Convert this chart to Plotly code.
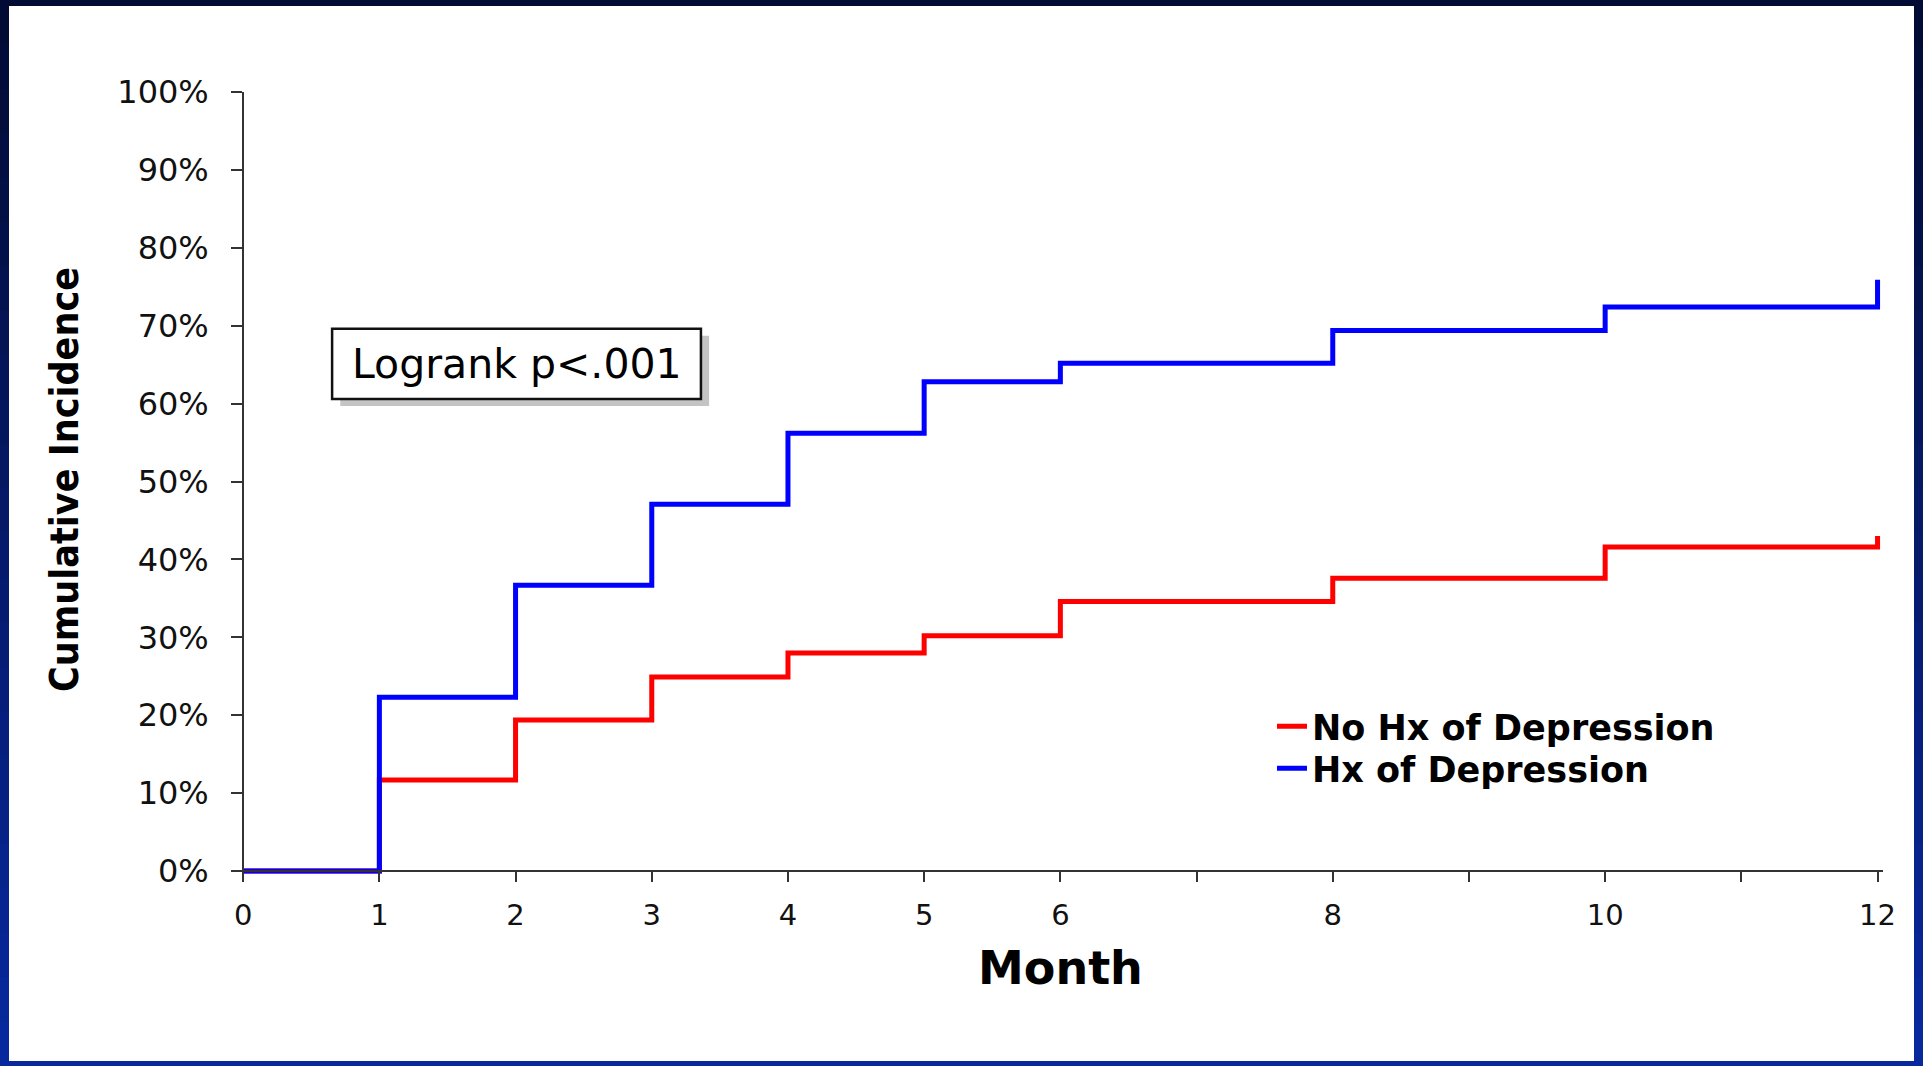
import plotly.graph_objects as go

# Cumulative incidence by month (step functions, percent)
months = [0, 1, 2, 3, 4, 5, 6, 8, 10, 12]
no_hx_depression = [0, 11.7, 19.4, 24.9, 28.0, 30.2, 34.6, 37.6, 41.6, 43.0]
hx_depression = [0, 22.3, 36.7, 47.1, 56.2, 62.8, 65.2, 69.4, 72.4, 75.9]

x_tick_vals = list(range(0, 13))
x_tick_text = ["0", "1", "2", "3", "4", "5", "6", "", "8", "", "10", "", "12"]
y_tick_vals = list(range(0, 101, 10))
y_tick_text = [f"{v}%" for v in y_tick_vals]

series_names = ["No Hx of Depression", "Hx of Depression"]
series_colors = ["#ff0000", "#0000ff"]
annotation_text = "Logrank p<.001"

W, H = 1923, 1066
L, R, T, B = 235, 40, 92, 191
PW, PH = W - L - R, H - T - B


def px_x(px):
    return (px - L) / PW


def px_y(py):
    return (H - B - py) / PH


# each series gets its own legend so the two rows can sit close together
legend_ids = ["legend", "legend2"]
legend_tops = [697, 739]

fig = go.Figure()
for name, ys, col, lid in zip(series_names, [no_hx_depression, hx_depression], series_colors, legend_ids):
    fig.add_trace(go.Scatter(
        x=months, y=ys, name=name, mode="lines",
        line=dict(color=col, width=5, shape="hv"),
        hoverinfo="skip", legend=lid,
    ))

shapes = []
# navy slide frame with a vertical gradient
N = 24
c0, c1 = (2, 11, 52), (8, 40, 158)
for i in range(N):
    t = i / (N - 1)
    col = "rgb({},{},{})".format(*[round(a + (b - a) * t) for a, b in zip(c0, c1)])
    shapes.append(dict(type="rect", xref="paper", yref="paper", layer="below",
                       x0=px_x(0), x1=px_x(W), y0=px_y(i * H / N), y1=px_y((i + 1) * H / N + 1),
                       line=dict(width=0), fillcolor=col))
shapes.append(dict(type="rect", xref="paper", yref="paper", layer="below",
                   x0=px_x(9), x1=px_x(1914), y0=px_y(6), y1=px_y(1061),
                   line=dict(width=0), fillcolor="white"))

# p-value box with drop shadow
bx0, bx1, by0, by1 = 0.653, 3.361, 60.6, 69.6
dx, dy = 0.06, -0.9
shapes.append(dict(type="rect", xref="x", yref="y", layer="above",
                   x0=bx0 + dx, x1=bx1 + dx, y0=by0 + dy, y1=by1 + dy,
                   line=dict(width=0), fillcolor="#c4c4c4"))
shapes.append(dict(type="rect", xref="x", yref="y", layer="above",
                   x0=bx0, x1=bx1, y0=by0, y1=by1,
                   line=dict(width=2.5, color="#111111"), fillcolor="white"))

annotations = [
    dict(x=(bx0 + bx1) / 2, y=(by0 + by1) / 2, xref="x", yref="y", text=annotation_text,
         showarrow=False, font=dict(family="DejaVu Sans", size=41, color="#000000"),
         xanchor="center", yanchor="middle"),
    dict(x=0.5 * (px_x(243) + px_x(1878)), y=px_y(968), xref="paper", yref="paper",
         text="<b>Month</b>", showarrow=False,
         font=dict(family="DejaVu Sans", size=46, color="#000000"),
         xanchor="center", yanchor="middle"),
    dict(x=px_x(64), y=px_y(480), xref="paper", yref="paper",
         text="<b>Cumulative Incidence</b>", showarrow=False, textangle=-90,
         font=dict(family="Liberation Sans Narrow, DejaVu Sans Condensed, sans-serif",
                   size=39, color="#000000"),
         xanchor="center", yanchor="middle"),
]

legend_style = dict(xanchor="left", yanchor="top", bgcolor="rgba(0,0,0,0)",
                    font=dict(family="DejaVu Sans", size=35, color="#000000", weight="bold"))

fig.update_layout(
    width=W, height=H,
    margin=dict(l=L, r=R, t=T, b=B),
    paper_bgcolor="white", plot_bgcolor="rgba(0,0,0,0)",
    shapes=shapes, annotations=annotations,
    showlegend=True,
    legend=dict(x=px_x(1272), y=px_y(legend_tops[0]), **legend_style),
    legend2=dict(x=px_x(1272), y=px_y(legend_tops[1]), **legend_style),
    xaxis=dict(range=[-0.06, 12.04], tickmode="array", tickvals=x_tick_vals, ticktext=x_tick_text,
               showgrid=False, zeroline=False, showline=True, linecolor="#333333", linewidth=2,
               ticks="outside", ticklen=10, tickwidth=2, tickcolor="#333333",
               tickfont=dict(family="DejaVu Sans", size=29, color="#111111"),
               ticklabelstandoff=8,
               anchor="free", position=0.5 / 100.5),
    yaxis=dict(range=[-0.5, 100], tickmode="array", tickvals=y_tick_vals, ticktext=y_tick_text,
               showgrid=False, zeroline=False, showline=True, linecolor="#333333", linewidth=2,
               ticks="outside", ticklen=11, tickwidth=2, tickcolor="#333333",
               tickfont=dict(family="DejaVu Sans", size=32, color="#111111"),
               ticklabelstandoff=16,
               anchor="free", position=0.06 / 12.1),
)

fig.write_html("out.html")
